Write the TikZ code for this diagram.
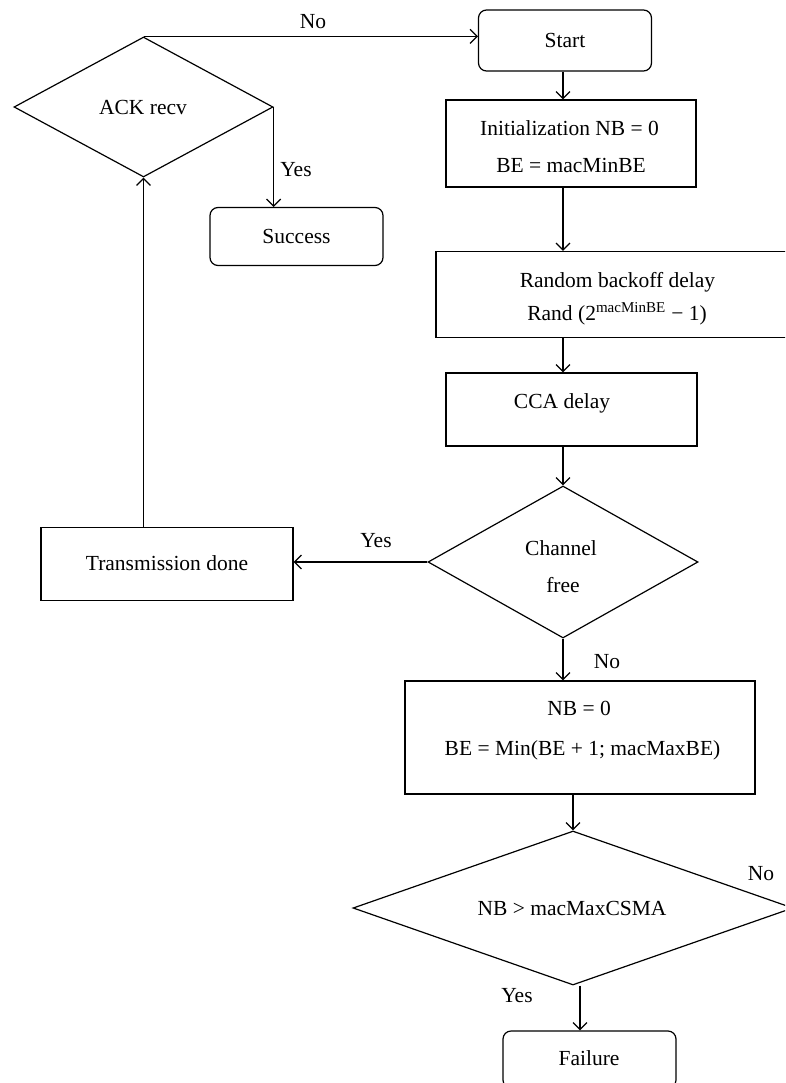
\documentclass[tikz,border=0pt]{standalone}
\usepackage{fontspec}
\setmainfont{Liberation Serif}
\usetikzlibrary{arrows.meta,shapes.geometric,calc}
\begin{document}
\begin{tikzpicture}[x=1pt,y=-1pt,
  every node/.style={font=\fontsize{21.5}{25}\selectfont},
  box/.style={draw,line width=1.2pt,inner sep=0pt,rectangle},
  rbox/.style={box,rounded corners=8pt},
  dia/.style={draw,line width=1.2pt,diamond,inner sep=0pt,aspect=1.8},
  txt/.style={inner sep=0pt,anchor=center},
  btxt/.style={inner sep=0pt,anchor=base},
  arr/.style={line width=1.2pt,-{Straight Barb[length=7pt,width=14pt]}}]
\path[use as bounding box] (0,0) rectangle (785,1083);
\clip (0,0) rectangle (785,1083);
\fill[white] (0,0) rectangle (785,1083);

% nodes
\node[rbox,minimum width=173pt,minimum height=61pt] (start) at (565,40.5) {Start};
\node[box,minimum width=250pt,minimum height=87pt] (init) at (571,143.5) {};
\node[btxt] (initA) at (569.5,136) {Initialization NB = 0};
\node[btxt] (initB) at (571,173) {BE = macMinBE};
\node[box,minimum width=364pt,minimum height=86pt] (rand) at (618,294.5) {};
\node[btxt] (randA) at (617.5,287) {Random backoff delay};
\node[btxt] (randB) at (617,320) {Rand (2\textsuperscript{macMinBE} − 1)};
\node[box,minimum width=251pt,minimum height=73pt] (cca) at (571.5,409.5) {};
\node[btxt] (ccaT) at (562,408) {CCA delay};
\node[dia,minimum width=270pt,minimum height=152pt] (chan) at (563,562) {};
\node[btxt] (chanA) at (561,555) {Channel};
\node[btxt] (chanB) at (563,592) {free};
\node[box,minimum width=252pt,minimum height=73pt] (tx) at (167,564) {};
\node[txt] (txT) at (167,563) {Transmission done};
\node[dia,minimum width=259pt,minimum height=140pt] (ack) at (143.5,107) {};
\node[txt] (ackT) at (143,107) {ACK recv};
\node[rbox,minimum width=173pt,minimum height=58pt] (succ) at (296.5,236.5) {Success};
\node[box,minimum width=350pt,minimum height=113pt] (nb) at (580,737.5) {};
\node[btxt] (nbA) at (579,715) {NB = 0};
\node[btxt] (nbB) at (582.5,755) {BE = Min(BE + 1; macMaxBE)};
\node[dia,minimum width=440pt,minimum height=154pt] (csma) at (573,908) {};
\node[txt] (csmaT) at (572,908) {NB > macMaxCSMA};
\node[rbox,minimum width=173pt,minimum height=57pt] (fail) at (589.5,1059.5) {};
\node[txt] (failT) at (589,1058) {Failure};

% connectors
\draw[arr] (ack.north) -- (ack.north -| start.west);
\draw[arr] (ack.east) -- (ack.east |- succ.north);
\draw[arr] (start.south -| chan.north) -- (init.north -| chan.north);
\draw[arr] (init.south -| chan.north) -- (rand.north -| chan.north);
\draw[arr] (rand.south -| chan.north) -- (cca.north -| chan.north);
\draw[arr] (cca.south -| chan.north) -- (chan.north);
\draw[arr] (chan.west) -- (chan.west -| tx.east);
\draw[arr] (ack.south |- tx.north) -- (ack.south);
\draw[arr] (chan.south) -- (chan.south |- nb.north);
\draw[arr] (csma.north |- nb.south) -- (csma.north);
\coordinate (cs) at ($(csma.south)+(7,0)$);
\draw[arr] (cs) -- (cs |- fail.north);

% labels
\node[txt] (l1) at (313,22) {No};
\node[txt] (l2) at (296,170) {Yes};
\node[txt] (l3) at (376,541) {Yes};
\node[txt] (l4) at (607,662) {No};
\node[txt] (l5) at (761,874) {No};
\node[txt] (l6) at (517,996) {Yes};
\end{tikzpicture}
\end{document}
